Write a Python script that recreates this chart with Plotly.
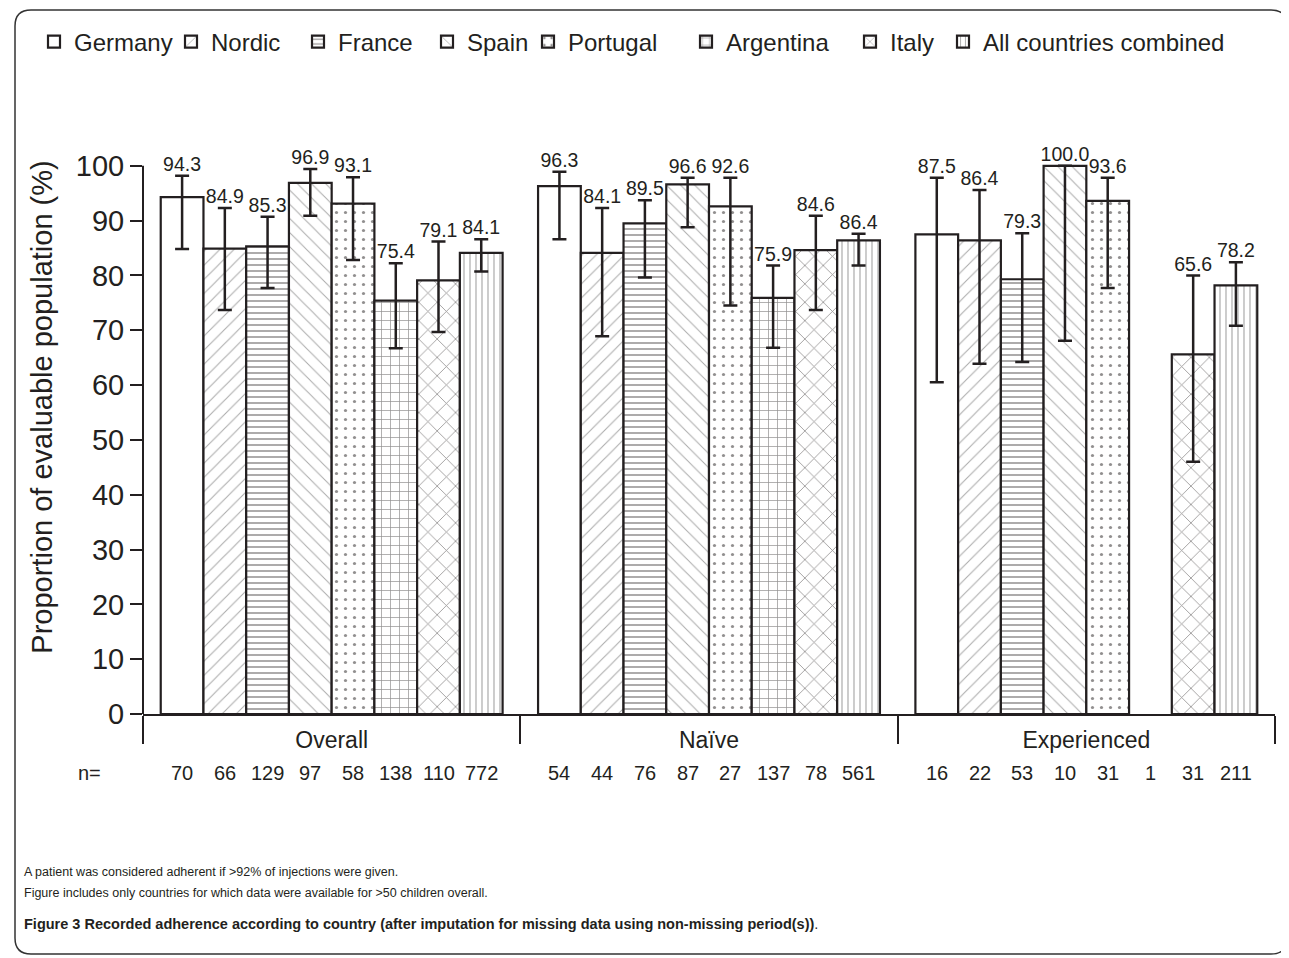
import plotly.graph_objects as go

# ---------------- data ----------------
groups = ["Overall", "Naïve", "Experienced"]
countries = ["Germany", "Nordic", "France", "Spain", "Portugal",
             "Argentina", "Italy", "All countries combined"]

germany = [94.3, 96.3, 87.5]
nordic = [84.9, 84.1, 86.4]
france = [85.3, 89.5, 79.3]
spain = [96.9, 96.6, 100.0]
portugal = [93.1, 92.6, 93.6]
argentina = [75.4, 75.9, None]
italy = [79.1, 84.6, 65.6]
all_combined = [84.1, 86.4, 78.2]

germany_hi = [98.2, 98.9, 97.8]
nordic_hi = [92.3, 92.3, 95.6]
france_hi = [90.7, 93.7, 87.7]
spain_hi = [99.4, 97.8, 100.0]
portugal_hi = [97.9, 97.8, 97.8]
argentina_hi = [82.2, 81.8, None]
italy_hi = [86.2, 90.9, 80.0]
all_hi = [86.6, 87.6, 82.4]

germany_lo = [84.8, 86.6, 60.5]
nordic_lo = [73.7, 68.9, 63.9]
france_lo = [77.7, 79.6, 64.2]
spain_lo = [90.9, 88.8, 68.1]
portugal_lo = [82.8, 74.5, 77.7]
argentina_lo = [66.7, 66.8, None]
italy_lo = [69.7, 73.7, 46.0]
all_lo = [80.7, 81.8, 70.8]

n_germany = [70, 54, 16]
n_nordic = [66, 44, 22]
n_france = [129, 76, 53]
n_spain = [97, 87, 10]
n_portugal = [58, 27, 31]
n_argentina = [138, 137, 1]
n_italy = [110, 78, 31]
n_all = [772, 561, 211]

y_ticks = [0, 10, 20, 30, 40, 50, 60, 70, 80, 90, 100]

values = [germany, nordic, france, spain, portugal, argentina, italy, all_combined]
highs = [germany_hi, nordic_hi, france_hi, spain_hi, portugal_hi, argentina_hi, italy_hi, all_hi]
lows = [germany_lo, nordic_lo, france_lo, spain_lo, portugal_lo, argentina_lo, italy_lo, all_lo]
ns = [n_germany, n_nordic, n_france, n_spain, n_portugal, n_argentina, n_italy, n_all]

# ---------------- style ----------------
INK = "#231f20"
FONT = "Liberation Sans, Arial, Helvetica, sans-serif"
patterns = [
    dict(shape=""),
    dict(shape="/", size=10, solidity=0.1, fgcolor="#555", bgcolor="white"),
    dict(shape="-", size=6, solidity=0.25, fgcolor=INK, bgcolor="white"),
    dict(shape="\\", size=10, solidity=0.1, fgcolor="#555", bgcolor="white"),
    dict(shape=".", size=9, solidity=0.1, fgcolor=INK, bgcolor="white"),
    dict(shape="+", size=9, solidity=0.15, fgcolor=INK, bgcolor="white"),
    dict(shape="x", size=13, solidity=0.12, fgcolor=INK, bgcolor="white"),
    dict(shape="|", size=6, solidity=0.2, fgcolor="#555", bgcolor="white"),
]
# page x where each legend entry's text begins
legend_text_x = [75, 212, 339, 468, 569, 727, 891, 984]

OFF = 8  # page body margin
W, H = 1289 - OFF, 958 - OFF
L, T = 143 - OFF, 100 - OFF
R = W - (1275 - OFF)
B = H - (714 - OFF)
PW, PH = W - L - R, H - T - B


def px_x(px):
    return (px - OFF - L) / PW


def px_y(py):
    return (H - B - (py - OFF)) / PH


n_series = len(countries)
group_frac = 0.906
bar_w = group_frac / n_series
y_max = 112
data_per_px = y_max / PH

fig = go.Figure()
annotations = []
legends = {}

for i, name in enumerate(countries):
    lg = "legend" if i == 0 else f"legend{i + 1}"
    legends[lg] = dict(
        orientation="h", xref="container", yref="container",
        x=(legend_text_x[i] - 41 - OFF) / W, y=1 - (42 - OFF) / H,
        xanchor="left", yanchor="middle",
        font=dict(family=FONT, size=24, color=INK),
        itemwidth=30, bgcolor="rgba(0,0,0,0)")
    xs = [g + (i - (n_series - 1) / 2) * bar_w for g in range(len(groups))]
    vals = values[i]
    up = [None if v is None else h - v for v, h in zip(vals, highs[i])]
    dn = [None if v is None else v - l for v, l in zip(vals, lows[i])]
    fig.add_trace(go.Bar(
        x=xs, y=vals, width=bar_w, name=name, legend=lg,
        marker=dict(color="white", line=dict(color=INK, width=2.2),
                    pattern=patterns[i]),
        error_y=dict(type="data", symmetric=False, array=up, arrayminus=dn,
                     color=INK, thickness=2.5, width=7),
        showlegend=True,
    ))
    # value labels above error bars
    fig.add_trace(go.Scatter(
        x=xs, y=highs[i], mode="text",
        text=[None if v is None else f"{v:.1f}" for v in vals],
        textposition="top center",
        textfont=dict(family=FONT, size=19.5, color=INK),
        showlegend=False, cliponaxis=False, hoverinfo="skip",
    ))
    # n labels
    for x, n in zip(xs, ns[i]):
        annotations.append(dict(
            text=str(n), x=x, y=px_y(773), xref="x", yref="paper",
            xanchor="center", yanchor="middle",
            showarrow=False, font=dict(family=FONT, size=20, color=INK)))

# frame (rounded rectangle)
fl, ft, fr, fb, rr = 15, 10, 1287, 954, 16
path = (
    f"M {px_x(fl)},{px_y(ft + rr)} "
    f"Q {px_x(fl)},{px_y(ft)} {px_x(fl + rr)},{px_y(ft)} "
    f"L {px_x(fr - rr)},{px_y(ft)} "
    f"Q {px_x(fr)},{px_y(ft)} {px_x(fr)},{px_y(ft + rr)} "
    f"L {px_x(fr)},{px_y(fb - rr)} "
    f"Q {px_x(fr)},{px_y(fb)} {px_x(fr - rr)},{px_y(fb)} "
    f"L {px_x(fl + rr)},{px_y(fb)} "
    f"Q {px_x(fl)},{px_y(fb)} {px_x(fl)},{px_y(fb - rr)} Z"
)
shapes = [
    dict(type="path", path=path, xref="paper", yref="paper",
         line=dict(color="#333", width=1.5), fillcolor="rgba(0,0,0,0)", layer="below"),
    dict(type="line", xref="paper", yref="y", x0=0, x1=0,
         y0=-28 * data_per_px, y1=100, line=dict(color=INK, width=2)),
]

annotations += [
    dict(text="n=", x=px_x(89), y=px_y(773), xref="paper", yref="paper",
         xanchor="center", yanchor="middle",
         showarrow=False, font=dict(family=FONT, size=20, color=INK)),
    dict(text="A patient was considered adherent if >92% of injections were given.",
         x=px_x(22), y=px_y(872), xref="paper", yref="paper",
         xanchor="left", yanchor="middle",
         showarrow=False, font=dict(family=FONT, size=12.5, color=INK)),
    dict(text="Figure includes only countries for which data were available for >50 children overall.",
         x=px_x(22), y=px_y(893), xref="paper", yref="paper",
         xanchor="left", yanchor="middle",
         showarrow=False, font=dict(family=FONT, size=12.5, color=INK)),
    dict(text="<b>Figure 3 Recorded adherence according to country (after imputation for missing data using non-missing period(s))</b>.",
         x=px_x(22), y=px_y(924), xref="paper", yref="paper",
         xanchor="left", yanchor="middle",
         showarrow=False, font=dict(family=FONT, size=14.5, color=INK)),
]

fig.update_layout(
    width=W, height=H,
    margin=dict(l=L, r=R, t=T, b=B, autoexpand=False),
    paper_bgcolor="white", plot_bgcolor="white",
    barmode="overlay",
    font=dict(family=FONT, color=INK),
    showlegend=True,
    shapes=shapes, annotations=annotations,
    xaxis=dict(range=[-0.5, len(groups) - 0.5], tickvals=list(range(len(groups))),
               ticktext=groups, ticks="", showgrid=False, zeroline=False,
               showline=True, linecolor=INK, linewidth=2,
               tickfont=dict(family=FONT, size=23, color=INK),
               ticklabelstandoff=4,
               minor=dict(tickvals=[g - 0.5 for g in range(len(groups) + 1)],
                          ticks="outside", ticklen=28, tickwidth=2, tickcolor=INK,
                          showgrid=False)),
    yaxis=dict(range=[0, y_max], tickvals=y_ticks, ticks="outside", ticklen=12,
               tickwidth=2, tickcolor=INK, showgrid=False, zeroline=False,
               showline=False,
               tickfont=dict(family=FONT, size=29, color=INK),
               title=dict(text="Proportion of evaluable population (%)",
                          font=dict(family=FONT, size=29, color=INK), standoff=14)),
    **legends,
)

fig.write_html("out.html")
